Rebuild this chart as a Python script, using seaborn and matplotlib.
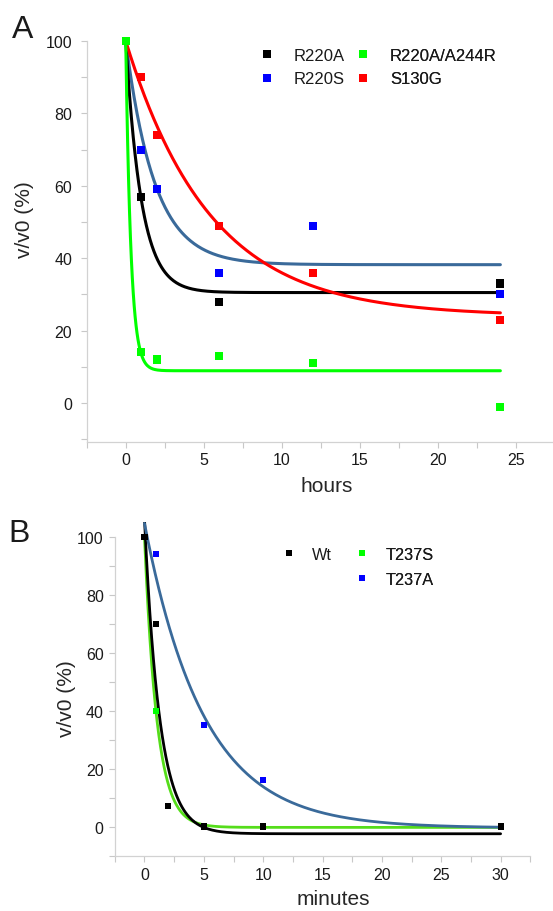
import numpy as np
import pandas as pd
import matplotlib
matplotlib.use("Agg")
import matplotlib.pyplot as plt
import seaborn as sns
from matplotlib.lines import Line2D
from matplotlib.ticker import MultipleLocator

# ---- data ----
hours = [0, 1, 2, 6, 12, 24]
r220a = [100, 57, np.nan, 28, np.nan, 33]
r220s = [np.nan, 70, 59, 36, 49, 30]
s130g = [np.nan, 90, 74, 49, 36, 23]
r220a_a244r = [100, 14, 12, 13, 11, -1]

minutes = [0, 1, 2, 5, 10, 30]
wt = [100, 70, 7, 0, 0, 0]
t237s = [np.nan, 40, np.nan, np.nan, np.nan, np.nan]
t237a = [np.nan, 94, np.nan, 35, 16, np.nan]

# one-phase decay fits as drawn (start, plateau, rate)
fit_names_a = ["R220S", "R220A", "S130G", "R220A/A244R"]
fit_y0_a = [100, 100, 100, 100]
fit_plateau_a = [38.2, 30.5, 24.0, 8.9]
fit_k_a = [0.54, 1.0, 0.185, 3.0]

fit_names_b = ["T237S", "Wt", "T237A"]
fit_y0_b = [100, 106, 104.6]
fit_plateau_b = [-0.3, -2.5, -0.5]
fit_k_b = [0.95, 0.78, 0.2]

colors_pts = {"R220A": "#000000", "R220S": "#0000ff", "S130G": "#ff0000",
              "R220A/A244R": "#00ff00", "Wt": "#000000", "T237S": "#00ff00",
              "T237A": "#0000ff"}
colors_a_line = {"R220A": "#000000", "R220S": "#3a6a9a", "S130G": "#ff0000",
                 "R220A/A244R": "#00ff00"}
colors_b_line = {"Wt": "#000000", "T237S": "#55dd1a", "T237A": "#3a6a9a"}

sns.set_style("white")
plt.rcParams["font.family"] = ["Liberation Sans", "DejaVu Sans"]
plt.rcParams["text.color"] = "#1a1a1a"

W, H = 553, 912
fig = plt.figure(figsize=(W / 100, H / 100), dpi=100)


def px_axes(left, right, top, bottom):
    return fig.add_axes([left / W, 1 - bottom / H, (right - left) / W, (bottom - top) / H])


def fit_frame(names, y0s, plats, ks, tmax):
    t = np.linspace(0, tmax, 400)
    rows = []
    for n, y0, p, k in zip(names, y0s, plats, ks):
        rows.append(pd.DataFrame({"t": t, "y": p + (y0 - p) * np.exp(-k * t), "s": n}))
    return pd.concat(rows, ignore_index=True)


def style_axes(ax, xpad, ypad):
    for s in ["top", "right"]:
        ax.spines[s].set_visible(False)
    for s in ["left", "bottom"]:
        ax.spines[s].set_color("#d2d2d2")
        ax.spines[s].set_linewidth(0.9)
    ax.xaxis.set_major_locator(MultipleLocator(5))
    ax.xaxis.set_minor_locator(MultipleLocator(2.5))
    ax.yaxis.set_major_locator(MultipleLocator(20))
    ax.yaxis.set_minor_locator(MultipleLocator(10))
    ax.tick_params(which="both", direction="out", color="#c8c8c8", width=0.8,
                   length=4, labelsize=11.5, labelcolor="#1a1a1a")
    ax.tick_params(axis="x", which="both", pad=xpad)
    ax.tick_params(axis="y", which="both", pad=ypad)
    ax.tick_params(which="both", bottom=True, left=True)
    ax.grid(False)


def add_legend(ax, names, x_px, y_px, fs, ms, hpad, lspace):
    handles = [Line2D([], [], ls="none", marker="s", ms=ms, mew=0,
                      color=colors_pts.get(n, "none")) for n in names]
    leg = ax.legend(handles, [n for n in names], loc="upper left",
                    bbox_to_anchor=(x_px / W, 1 - y_px / H), bbox_transform=fig.transFigure,
                    frameon=False, borderpad=0, borderaxespad=0, handlelength=1.0,
                    handletextpad=hpad, labelspacing=lspace, fontsize=fs)
    ax.add_artist(leg)


# ---- panel A ----
axA = px_axes(86.7, 555.0, 31.1, 442.7)
pts_a = pd.DataFrame({"t": hours * 4,
                      "y": r220a + r220s + s130g + r220a_a244r,
                      "s": ["R220A"] * 6 + ["R220S"] * 6 + ["S130G"] * 6 + ["R220A/A244R"] * 6}).dropna()
fits_a = fit_frame(fit_names_a, fit_y0_a, fit_plateau_a, fit_k_a, 24)
sns.lineplot(data=fits_a, x="t", y="y", hue="s", hue_order=fit_names_a,
             palette=colors_a_line, linewidth=2.2, legend=False, ax=axA, sort=False)
sns.scatterplot(data=pts_a, x="t", y="y", hue="s",
                hue_order=["R220A", "R220S", "S130G", "R220A/A244R"],
                palette=colors_pts, marker="s", s=34, linewidth=0, legend=False,
                ax=axA, zorder=5, clip_on=False)
axA.set_xlim(-2.5, 27.5)
axA.set_ylim(-10.7, 103)
axA.spines["left"].set_bounds(-10.7, 100)
style_axes(axA, 3.6, 6.5)
axA.set_xlabel("hours", fontsize=15)
axA.set_ylabel("v/v0 (%)", fontsize=15)
axA.xaxis.set_label_coords(326.7 / W, 1 - 487 / H, transform=fig.transFigure)
axA.xaxis.label.set_verticalalignment("center")
axA.yaxis.set_label_coords(25 / W, 1 - 220 / H, transform=fig.transFigure)
axA.yaxis.label.set_verticalalignment("center")
add_legend(axA, ["R220A", "R220S"], 258.4, 49.0, 12, 5.8, 1.1, 0.5)
add_legend(axA, ["R220A/A244R", "S130G"], 355.0, 49.0, 12, 5.8, 1.1, 0.5)

# ---- panel B ----
axB = px_axes(114.8, 530.3, 523.2, 856.5)
pts_b = pd.DataFrame({"t": minutes * 3,
                      "y": t237s + t237a + wt,
                      "s": ["T237S"] * 6 + ["T237A"] * 6 + ["Wt"] * 6}).dropna()
fits_b = fit_frame(fit_names_b, fit_y0_b, fit_plateau_b, fit_k_b, 30)
sns.lineplot(data=fits_b, x="t", y="y", hue="s", hue_order=fit_names_b,
             palette=colors_b_line, linewidth=2.0, legend=False, ax=axB, sort=False)
sns.scatterplot(data=pts_b, x="t", y="y", hue="s", hue_order=["T237S", "T237A", "Wt"],
                palette=colors_pts, marker="s", s=19, linewidth=0, legend=False,
                ax=axB, zorder=5, clip_on=False)
axB.set_xlim(-2.5, 32.5)
axB.set_ylim(-10, 105)
axB.spines["left"].set_bounds(-10, 100)
style_axes(axB, 4.3, 4.0)
axB.set_xlabel("minutes", fontsize=15)
axB.set_ylabel("v/v0 (%)", fontsize=15)
axB.xaxis.set_label_coords(333 / W, 1 - 900 / H, transform=fig.transFigure)
axB.xaxis.label.set_verticalalignment("center")
axB.yaxis.set_label_coords(67 / W, 1 - 699 / H, transform=fig.transFigure)
axB.yaxis.label.set_verticalalignment("center")
add_legend(axB, ["Wt"], 281.0, 548.0, 11.7, 4.3, 0.92, 0.6)
add_legend(axB, ["T237S", "T237A"], 354.2, 548.0, 11.7, 4.3, 0.92, 0.6)

# panel letters
fig.text(22.5 / W, 1 - 38 / H, "A", fontsize=23, ha="center", va="baseline")
fig.text(19.4 / W, 1 - 542 / H, "B", fontsize=23, ha="center", va="baseline")

fig.savefig("out.png", dpi=100)
